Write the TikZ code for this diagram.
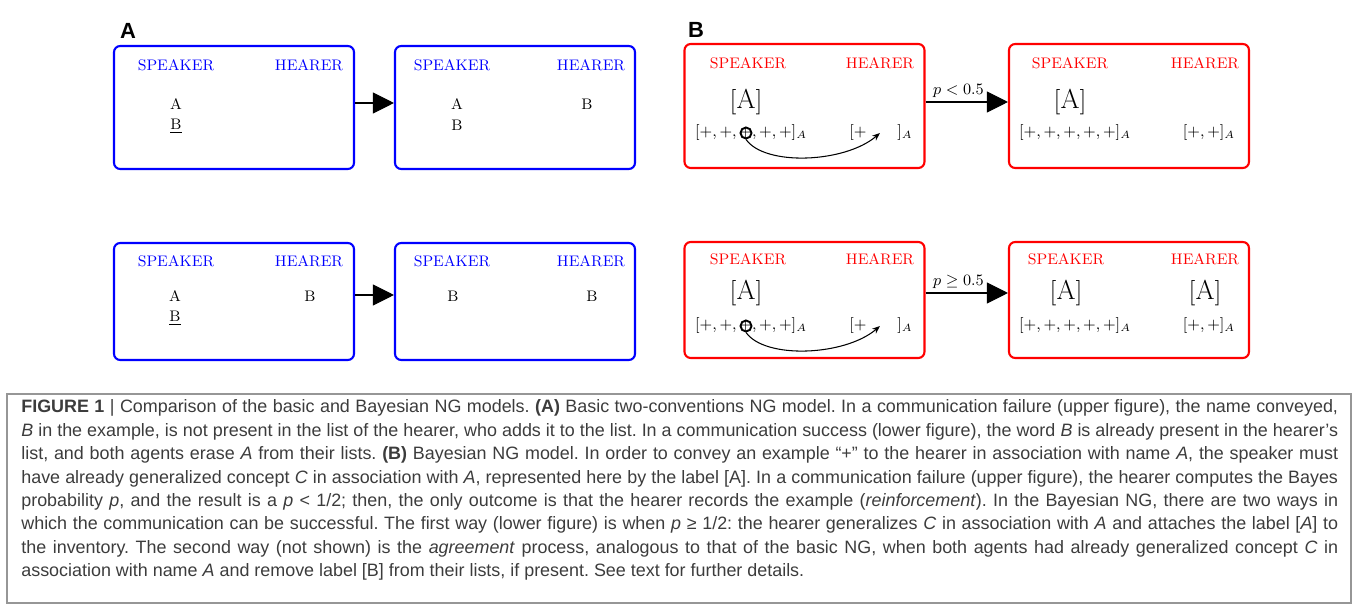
\documentclass[tikz,border=0pt]{standalone}
\usepackage{fontspec}
\usepackage{amsmath}
\usepackage{amssymb}
\usetikzlibrary{arrows.meta}
\newfontfamily\capfont{Liberation Sans}
\definecolor{capgray}{RGB}{60,60,60}
\definecolor{framegray}{RGB}{150,150,150}

\begin{document}
\begin{tikzpicture}[
      x=0.02cm, y=-0.02cm,
      panelA/.style={
        draw=blue,
        line width=1.2pt,
        rounded corners=3.5pt,
        minimum width=4.8cm,
        minimum height=2.46cm,
        inner sep=0pt
      },
      panelB/.style={panelA, draw=red},
      roleA/.style={text=blue, font=\fontsize{8.7}{10}\selectfont},
      roleB/.style={text=red, font=\fontsize{8.7}{10}\selectfont},
      word/.style={font=\fontsize{8.7}{10}\selectfont},
      seq/.style={anchor=base, font=\fontsize{8.7}{10}\selectfont},
      tag/.style={font=\fontsize{15.6}{18}\selectfont},
      ring/.style={circle, draw, line width=1.1pt, minimum size=0.22cm, inner sep=0pt},
      flow/.style={-{Triangle[length=12pt,width=12pt]}, line width=0.6pt},
      carry/.style={-{Stealth[length=4.5pt,width=3.5pt]}, line width=0.6pt},
      hint/.style={font=\fontsize{8.7}{10}\selectfont, inner sep=2pt},
      paneltag/.style={font=\capfont\bfseries\fontsize{12.5}{14}\selectfont}
    ]
      \useasboundingbox (0,0) rectangle (1360,604);

      % panel A
      \node (labA) at (128,31) [paneltag] {A};
      \node (nA1) at (234,107.5) [panelA] {};
      \node (nA2) at (515,107.5) [panelA] {};
      \node (nA3) at (234,301.5) [panelA,minimum height=2.34cm] {};
      \node (nA4) at (515,301.5) [panelA,minimum height=2.34cm] {};

      \node (spA1) at (176,65) [roleA] {SPEAKER};
      \node (hrA1) at (309,65) [roleA] {HEARER};
      \node (wA1a) at (176,104) [word] {A};
      \node (wA1b) at (176,126) [word] {\underline{B}};

      \node (spA2) at (452,65) [roleA] {SPEAKER};
      \node (hrA2) at (591,65) [roleA] {HEARER};
      \node (wA2a) at (457,104) [word] {A};
      \node (wA2b) at (457,125) [word] {B};
      \node (wA2c) at (587,104) [word] {B};

      \node (spA3) at (176,261) [roleA] {SPEAKER};
      \node (hrA3) at (309,261) [roleA] {HEARER};
      \node (wA3a) at (175,296) [word] {A};
      \node (wA3b) at (175,318) [word] {\underline{B}};
      \node (wA3c) at (310,296) [word] {B};

      \node (spA4) at (452,261) [roleA] {SPEAKER};
      \node (hrA4) at (591,261) [roleA] {HEARER};
      \node (wA4a) at (453,296) [word] {B};
      \node (wA4b) at (592,296) [word] {B};

      \draw[flow] ([yshift=0.09cm]nA1.east) -- ([yshift=0.09cm]nA2.west);
      \draw[flow] ([yshift=0.13cm]nA3.east) -- ([yshift=0.13cm]nA4.west);

      % panel B
      \node (labB) at (696,30) [paneltag] {B};
      \node (nB1) at (804.5,106) [panelB,minimum height=2.48cm] {};
      \node (nB2) at (1129,106) [panelB,minimum height=2.48cm] {};
      \node (nB3) at (804.5,300) [panelB,minimum height=2.32cm] {};
      \node (nB4) at (1129,300) [panelB,minimum height=2.32cm] {};

      \node (spB1) at (748,63) [roleB] {SPEAKER};
      \node (hrB1) at (880,63) [roleB] {HEARER};
      \node (tB1) at (746,102) [tag] {$[\mathrm{A}]$};
      \node (lB1) at (751,137) [seq] {$[+,+,+,+,+]_A$};
      \node (mB1) at (881,137) [seq] {$[+\hspace{17.6pt}]_A$};
      \node (rB1) at (746,133) [ring] {};
      \coordinate (eB1) at (880,133);
      \draw[carry] (rB1.south) .. controls +(19,27) and +(-35,30) .. (eB1);

      \node (spB2) at (1070,63) [roleB] {SPEAKER};
      \node (hrB2) at (1205,63) [roleB] {HEARER};
      \node (tB2) at (1070,102) [tag] {$[\mathrm{A}]$};
      \node (lB2) at (1075,137) [seq] {$[+,+,+,+,+]_A$};
      \node (mB2) at (1209,137) [seq] {$[+,+]_A$};

      \node (spB3) at (748,259) [roleB] {SPEAKER};
      \node (hrB3) at (880,259) [roleB] {HEARER};
      \node (tB3) at (746,293) [tag] {$[\mathrm{A}]$};
      \node (lB3) at (751,330) [seq] {$[+,+,+,+,+]_A$};
      \node (mB3) at (881,330) [seq] {$[+\hspace{17.6pt}]_A$};
      \node (rB3) at (746,326) [ring] {};
      \coordinate (eB3) at (880,326);
      \draw[carry] (rB3.south) .. controls +(19,27) and +(-35,30) .. (eB3);

      \node (spB4) at (1066,259) [roleB] {SPEAKER};
      \node (hrB4) at (1205,259) [roleB] {HEARER};
      \node (tB4) at (1066,293) [tag] {$[\mathrm{A}]$};
      \node (uB4) at (1205,293) [tag] {$[\mathrm{A}]$};
      \node (lB4) at (1075,330) [seq] {$[+,+,+,+,+]_A$};
      \node (mB4) at (1209,330) [seq] {$[+,+]_A$};

      \draw[flow] ([yshift=0.08cm]nB1.east) -- ([yshift=0.08cm]nB2.west)
        node (pB1) [pos=0.4, above, hint] {$p<0.5$};
      \draw[flow] ([yshift=0.14cm]nB3.east) -- ([yshift=0.14cm]nB4.west)
        node (pB3) [pos=0.4, above, hint] {$p\geq 0.5$};

      % caption
      \draw[framegray, line width=0.8pt] (7,394) rectangle (1351,603);
      \node (cap) at (21,413) [anchor=base west, text width=26.34cm, align=justify,
        inner sep=0pt, text=capgray, font=\capfont\fontsize{10.2}{13.3}\selectfont]
        {\hyphenpenalty=10000\frenchspacing
        {\bfseries FIGURE 1} | Comparison of the basic and Bayesian NG models. {\bfseries (A)} Basic two-conventions NG model. In a communication failure (upper figure), the name conveyed,\linebreak
        \textit{B} in the example, is not present in the list of the hearer, who adds it to the list. In a communication success (lower figure), the word \textit{B} is already present in the hearer’s\linebreak
        list, and both agents erase \textit{A} from their lists. {\bfseries (B)} Bayesian NG model. In order to convey an example “+” to the hearer in association with name \textit{A}, the speaker must\linebreak
        have already generalized concept \textit{C} in association with \textit{A}, represented here by the label [A]. In a communication failure (upper figure), the hearer computes the Bayes\linebreak
        probability \textit{p}, and the result is a \textit{p} < 1/2; then, the only outcome is that the hearer records the example (\textit{reinforcement}). In the Bayesian NG, there are two ways in\linebreak
        which the communication can be successful. The first way (lower figure) is when \textit{p} ≥ 1/2: the hearer generalizes \textit{C} in association with \textit{A} and attaches the label [\textit{A}] to\linebreak
        the inventory. The second way (not shown) is the \textit{agreement} process, analogous to that of the basic NG, when both agents had already generalized concept \textit{C} in\linebreak
        association with name \textit{A} and remove label [B] from their lists, if present. See text for further details.};

    \end{tikzpicture}
\end{document}
